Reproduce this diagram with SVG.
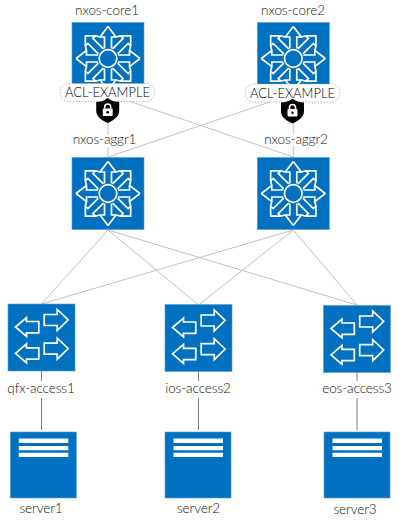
<svg xmlns="http://www.w3.org/2000/svg" xmlns:xlink="http://www.w3.org/1999/xlink" width="400" height="523" viewBox="0 0 400 523">
<style>
text{font-family:"Lato","Liberation Sans",sans-serif;font-weight:300;font-size:13.500px;letter-spacing:-.1px;fill:#111;text-anchor:middle}
text.a{font-size:13px;letter-spacing:0;fill:#000}
.bg{fill:#0070c0;stroke:#5b9bd5;stroke-width:.6}
.g{fill:none;stroke:#fff;stroke-width:1.700;stroke-linejoin:miter}
.lnk{stroke:#bbb;stroke-width:.9;fill:none}
.v{stroke:#808080;stroke-width:1;fill:none}
.acl{fill:#fff;stroke:#aaa;stroke-width:.8;stroke-dasharray:1.500 1.500}
</style>
<defs>
<path id="q" d="M0,-32 L8,-21.500 L12.500,-22.700 L22.600,-22.600 L22.700,-12.500 L21.500,-8 L32,0 M3.500,-10 V-21.500 H8 M-3.500,-10 V-21.500 H-8 M12.500,-22.700 L15.100,-20.100 L4.600,-9.600 M22.700,-12.500 L20.100,-15.100 L9.600,-4.600"/>
<g id="router">
<rect class="bg" x="-36" y="-36" width="72" height="72"/>
<g class="g">
<use xlink:href="#q"/><use xlink:href="#q" transform="rotate(90)"/><use xlink:href="#q" transform="rotate(180)"/><use xlink:href="#q" transform="rotate(270)"/>
<circle r="8.800"/>
</g>
</g>
<g id="switch">
<rect class="bg" x="-33.500" y="-33.500" width="67" height="67"/>
<g class="g">
<path d="M-26,-10.500 L-15,-20 V-16 H-2.700 V-4.700 H-15 V-1 Z"/>
<path d="M-26,15.800 L-15,6.300 V10.300 H-2.700 V21.600 H-15 V25.300 Z"/>
<path d="M26.700,-17.700 L15.700,-28 V-23 H2.700 V-12 H15.700 V-7 Z"/>
<path d="M26.700,11 L15.700,0.700 V5.700 H2.700 V16.700 H15.700 V21.700 Z"/>
</g>
</g>
<g id="server">
<rect class="bg" x="-33" y="-33" width="66" height="66"/>
<path fill="#fff" d="M-24.500,-26.500 H25 V-22 H-24.500 Z M-24.500,-19 H25 V-14.700 H-24.500 Z M-24.500,-12.300 H25 V-8 H-24.500 Z"/>
</g>
<rect id="acl" class="acl" x="-47.500" y="-9" width="95" height="18" rx="9"/>
<g id="shield">
<path fill="#000" d="M0,-12.500 C4,-9.500 8,-8.500 11.500,-8.500 V0 C11.500,6 6,10 0,12.500 C-6,10 -11.500,6 -11.500,0 V-8.500 C-8,-8.500 -4,-9.500 0,-12.500 Z"/>
<rect x="-5" y="-2" width="10" height="7.500" rx="1" fill="#fff"/>
<path d="M-3,-2 V-3.500 A3,3 0 0 1 3,-3.500 V-2" fill="none" stroke="#fff" stroke-width="1.600"/>
<circle cy="1.700" r="1.300" fill="#000"/>
</g>
</defs>
<g id="connectors">
<path class="lnk" d="M108,94 V157 M293.300,94 V157 M108,94 L293.300,157 M293.300,94 L108,157"/>
<path class="lnk" d="M108,230 L41.500,304 M108,230 L198.500,305 M108,230 L357,305 M293.300,230 L41.500,304 M293.300,230 L198.500,305 M293.300,230 L357,305"/>
<path class="v" d="M41.500,371 V430 M198.500,371 V430 M357,372 V430"/>
</g>
<g id="nxos-core1"><use xlink:href="#router" x="108" y="58.500"/><text x="107" y="15">nxos-core1</text></g>
<g id="nxos-core2"><use xlink:href="#router" x="293.300" y="58.500"/><text x="293" y="15">nxos-core2</text></g>
<g id="acl1"><use xlink:href="#acl" x="107.500" y="92.500"/><text class="a" x="107.500" y="97">ACL-EXAMPLE</text><use xlink:href="#shield" x="107.700" y="110.500"/></g>
<g id="acl2"><use xlink:href="#acl" x="292.500" y="93"/><text class="a" x="292.500" y="97.500">ACL-EXAMPLE</text><use xlink:href="#shield" x="292.500" y="111"/></g>
<g id="nxos-aggr1"><use xlink:href="#router" x="108" y="193.500"/><rect x="107" y="135" width="3" height="12" fill="#fff"/><text x="104.500" y="144">nxos-aggr1</text></g>
<g id="nxos-aggr2"><use xlink:href="#router" x="293.300" y="193.500"/><rect x="292" y="135" width="3" height="10" fill="#fff"/><text x="296" y="144">nxos-aggr2</text></g>
<g id="qfx-access1"><use xlink:href="#switch" x="41.500" y="337.500"/><rect x="30" y="381" width="24" height="17" fill="#fff"/><text x="41" y="392.500">qfx-access1</text></g>
<g id="ios-access2"><use xlink:href="#switch" x="198.500" y="338"/><rect x="187" y="381" width="24" height="17" fill="#fff"/><text x="198" y="392.500">ios-access2</text></g>
<g id="eos-access3"><use xlink:href="#switch" x="357" y="339"/><rect x="345" y="381" width="24" height="17" fill="#fff"/><text x="357" y="392.500">eos-access3</text></g>
<g id="server1"><use xlink:href="#server" x="43.300" y="465"/><text x="41" y="512.700">server1</text></g>
<g id="server2"><use xlink:href="#server" x="198" y="465"/><text x="198.500" y="512.700">server2</text></g>
<g id="server3"><use xlink:href="#server" x="357" y="465"/><text x="355" y="514">server3</text></g>
</svg>
